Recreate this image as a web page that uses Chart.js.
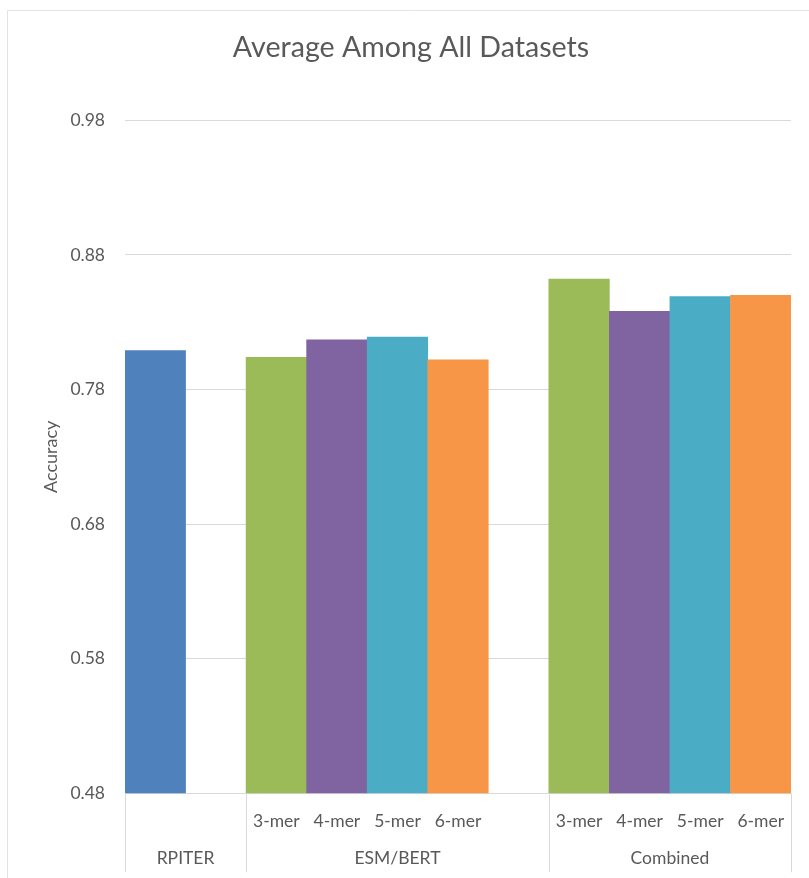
<!DOCTYPE html>
<html>
<head>
<meta charset="utf-8">
<script src="https://cdn.jsdelivr.net/npm/chart.js@4/dist/chart.umd.min.js"></script>
<style>
  html, body { margin: 0; padding: 0; background: #ffffff; }
  #wrap { width: 809px; height: 878px; }
</style>
</head>
<body>
<div id="wrap"><canvas id="chart" width="809" height="878"></canvas></div>
<script>
// Feature groups shown along the category axis
const groupNames = ['RPITER', 'ESM/BERT', 'Combined'];
// k-mer settings for the language-model features
const kmerLabels = ['3-mer', '4-mer', '5-mer', '6-mer'];
// Average accuracy over all datasets
const rpiterAccuracy = [0.809];
const esmBertAccuracy = [0.804, 0.817, 0.819, 0.802];
const combinedAccuracy = [0.862, 0.838, 0.849, 0.850];
// Value axis ticks
const yTicks = [0.48, 0.58, 0.68, 0.78, 0.88, 0.98];

const rpiterColor = '#4F81BD';
const kmerColors = ['#9BBB59', '#8064A2', '#4BACC6', '#F79646'];
const textColor = '#595959';
const gridColor = '#D9D9D9';
const fontFamily = 'Lato, "Open Sans", sans-serif';

// Lay the groups out side by side, one empty slot between groups
const groupsDef = [
  { name: groupNames[0], labels: [''], values: rpiterAccuracy, colors: [rpiterColor] },
  { name: groupNames[1], labels: kmerLabels, values: esmBertAccuracy, colors: kmerColors },
  { name: groupNames[2], labels: kmerLabels, values: combinedAccuracy, colors: kmerColors }
];
const slotLabels = [], slotValues = [], slotColors = [], groupSpans = [];
groupsDef.forEach((g, gi) => {
  const start = slotLabels.length;
  g.labels.forEach((lab, i) => {
    slotLabels.push(lab);
    slotValues.push(g.values[i]);
    slotColors.push(g.colors[i]);
  });
  if (gi < groupsDef.length - 1) {
    slotLabels.push('');
    slotValues.push(null);
    slotColors.push('rgba(0,0,0,0)');
  }
  groupSpans.push({ name: g.name, start: start, end: slotLabels.length - 1 });
});

// Outer frame, group separators and group labels under the k-mer row
const groupAxisPlugin = {
  id: 'groupAxis',
  beforeDraw(chart) {
    const ctx = chart.ctx;
    ctx.save();
    ctx.strokeStyle = '#E3E3E3';
    ctx.lineWidth = 1;
    ctx.beginPath();
    ctx.moveTo(7.5, chart.height + 5);
    ctx.lineTo(7.5, 10.5);
    ctx.lineTo(chart.width + 5, 10.5);
    ctx.stroke();
    ctx.restore();
  },
  afterDraw(chart) {
    const ctx = chart.ctx;
    const x = chart.scales.x;
    const area = chart.chartArea;
    const half = (x.getPixelForValue(1) - x.getPixelForValue(0)) / 2;
    ctx.save();
    ctx.strokeStyle = gridColor;
    ctx.lineWidth = 1;
    const edges = [];
    groupSpans.forEach(s => {
      edges.push(x.getPixelForValue(s.start) - half);
    });
    edges.push(x.getPixelForValue(groupSpans[groupSpans.length - 1].end) + half);
    ctx.beginPath();
    edges.forEach(px => {
      const p = Math.round(px) + 0.5;
      ctx.moveTo(p, area.bottom);
      ctx.lineTo(p, area.bottom + 79);
    });
    ctx.stroke();
    ctx.fillStyle = textColor;
    ctx.font = '17.5px ' + fontFamily;
    ctx.textAlign = 'center';
    ctx.textBaseline = 'middle';
    groupSpans.forEach(s => {
      const left = x.getPixelForValue(s.start) - half;
      const right = x.getPixelForValue(s.end) + half;
      ctx.fillText(s.name, (left + right) / 2, area.bottom + 65);
    });
    ctx.restore();
  }
};

new Chart(document.getElementById('chart'), {
  type: 'bar',
  data: {
    labels: slotLabels,
    datasets: [{
      label: 'Accuracy',
      data: slotValues,
      backgroundColor: slotColors,
      borderWidth: 0,
      barPercentage: 1,
      categoryPercentage: 1
    }]
  },
  options: {
    responsive: false,
    animation: false,
    events: [],
    layout: { padding: { left: 31, right: 18, top: 10, bottom: 0 } },
    plugins: {
      legend: { display: false },
      tooltip: { enabled: false },
      title: {
        display: true,
        text: 'Average Among All Datasets',
        color: textColor,
        font: { family: fontFamily, size: 28.6, weight: 'normal' },
        padding: { top: 21, bottom: 55 }
      }
    },
    scales: {
      x: {
        grid: { display: false },
        border: { display: false },
        ticks: {
          color: textColor,
          font: { family: fontFamily, size: 17.5 },
          maxRotation: 0,
          autoSkip: false,
          padding: 10
        },
        afterFit(scale) { scale.height = 84.7; }
      },
      y: {
        min: yTicks[0],
        max: yTicks[yTicks.length - 1],
        afterBuildTicks(scale) { scale.ticks = yTicks.map(v => ({ value: v })); },
        grid: { color: gridColor, lineWidth: 1, drawTicks: false },
        border: { display: false },
        ticks: {
          color: textColor,
          font: { family: fontFamily, size: 17.5 },
          padding: 20,
          callback: v => Number(v).toFixed(2)
        },
        title: {
          display: true,
          text: 'Accuracy',
          color: textColor,
          font: { family: fontFamily, size: 18 },
          padding: { top: 9, bottom: 0 }
        },
        afterFit(scale) { scale.width = 94; }
      }
    }
  },
  plugins: [groupAxisPlugin]
});
</script>
</body>
</html>
